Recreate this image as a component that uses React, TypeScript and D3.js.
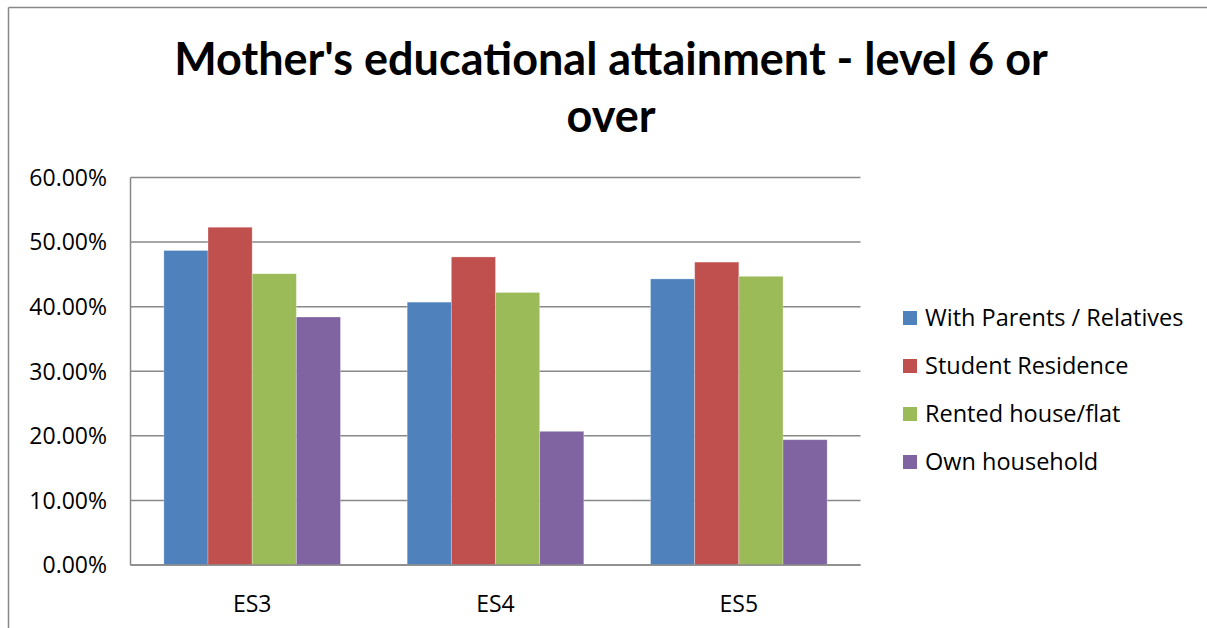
import React from "react";
import * as d3 from "d3";

const categories = ["ES3", "ES4", "ES5"];
const seriesNames = [
  "With Parents / Relatives",
  "Student Residence",
  "Rented house/flat",
  "Own household",
];
const withParents = [0.487, 0.407, 0.443];
const studentResidence = [0.523, 0.477, 0.469];
const rentedHouse = [0.451, 0.422, 0.447];
const ownHousehold = [0.384, 0.207, 0.194];
const yTicks = [0, 0.1, 0.2, 0.3, 0.4, 0.5, 0.6];
const colors = ["#4F81BD", "#C0504D", "#9BBB59", "#8064A2"];

const seriesValues = [withParents, studentResidence, rentedHouse, ownHousehold];

const W = 1207;
const H = 628;
const plot = { left: 130.5, right: 860.5, top: 177.5, bottom: 565 };
const titleFont = "Lato, 'Open Sans', sans-serif";
const font = "'Open Sans', 'Noto Sans', sans-serif";

export default function App() {
  const x0 = d3
    .scaleBand<string>()
    .domain(categories)
    .range([plot.left, plot.right])
    .paddingInner(66.7 / 243.3)
    .paddingOuter(33.35 / 243.3);
  const x1 = d3
    .scaleBand<number>()
    .domain(d3.range(seriesNames.length))
    .range([0, x0.bandwidth()]);
  const y = d3.scaleLinear().domain([0, 0.6]).range([plot.bottom, plot.top]);
  const fmt = d3.format(".2%");

  return (
    <svg
      width={W}
      height={H}
      style={{ position: "absolute", left: 0, top: 0, display: "block", background: "#fff" }}
    >
      {/* chart frame */}
      <line x1={8.5} y1={7.5} x2={W} y2={7.5} stroke="#888" strokeWidth={1.5} />
      <line x1={8.5} y1={7.5} x2={8.5} y2={H} stroke="#888" strokeWidth={1.5} />

      {/* title */}
      <text
        x={611}
        y={75}
        textAnchor="middle"
        fontFamily={titleFont}
        fontWeight={700}
        fontSize={45}
        fill="#000"
      >
        Mother's educational attainment - level 6 or
      </text>
      <text
        x={611}
        y={132}
        textAnchor="middle"
        fontFamily={titleFont}
        fontWeight={700}
        fontSize={45}
        fill="#000"
      >
        over
      </text>

      {/* gridlines and y labels */}
      {yTicks.map((t) => (
        <g key={t}>
          <line
            x1={plot.left}
            x2={plot.right}
            y1={y(t)}
            y2={y(t)}
            stroke="#888"
            strokeWidth={1.5}
          />
          <text
            x={107}
            y={y(t)}
            dy="0.36em"
            textAnchor="end"
            fontFamily={font}
            fontSize={23}
            fill="#000"
          >
            {fmt(t)}
          </text>
        </g>
      ))}
      <line
        x1={plot.left}
        x2={plot.left}
        y1={plot.top}
        y2={plot.bottom}
        stroke="#888"
        strokeWidth={1.5}
      />

      {/* bars */}
      {categories.map((c, ci) => (
        <g key={c} transform={`translate(${x0(c)},0)`}>
          {seriesValues.map((vals, si) => (
            <rect
              key={si}
              x={x1(si)}
              y={y(vals[ci])}
              width={x1.bandwidth()}
              height={y(0) - y(vals[ci])}
              fill={colors[si]}
              stroke="rgba(255,255,255,0.35)"
              strokeWidth={0.8}
            />
          ))}
        </g>
      ))}
      <line
        x1={plot.left}
        x2={plot.right}
        y1={y(0)}
        y2={y(0)}
        stroke="#888"
        strokeWidth={1.5}
      />

      {/* category labels */}
      {categories.map((c) => (
        <text
          key={c}
          x={(x0(c) as number) + x0.bandwidth() / 2}
          y={612}
          textAnchor="middle"
          fontFamily={font}
          fontSize={23}
          fill="#000"
        >
          {c}
        </text>
      ))}

      {/* legend */}
      {seriesNames.map((name, i) => {
        const cy = 318 + i * 48;
        return (
          <g key={name}>
            <rect x={903} y={cy - 7} width={14} height={14} fill={colors[i]} />
            <text
              x={925}
              y={cy}
              dy="0.36em"
              fontFamily={font}
              fontSize={23.5}
              fill="#000"
            >
              {name}
            </text>
          </g>
        );
      })}
    </svg>
  );
}
